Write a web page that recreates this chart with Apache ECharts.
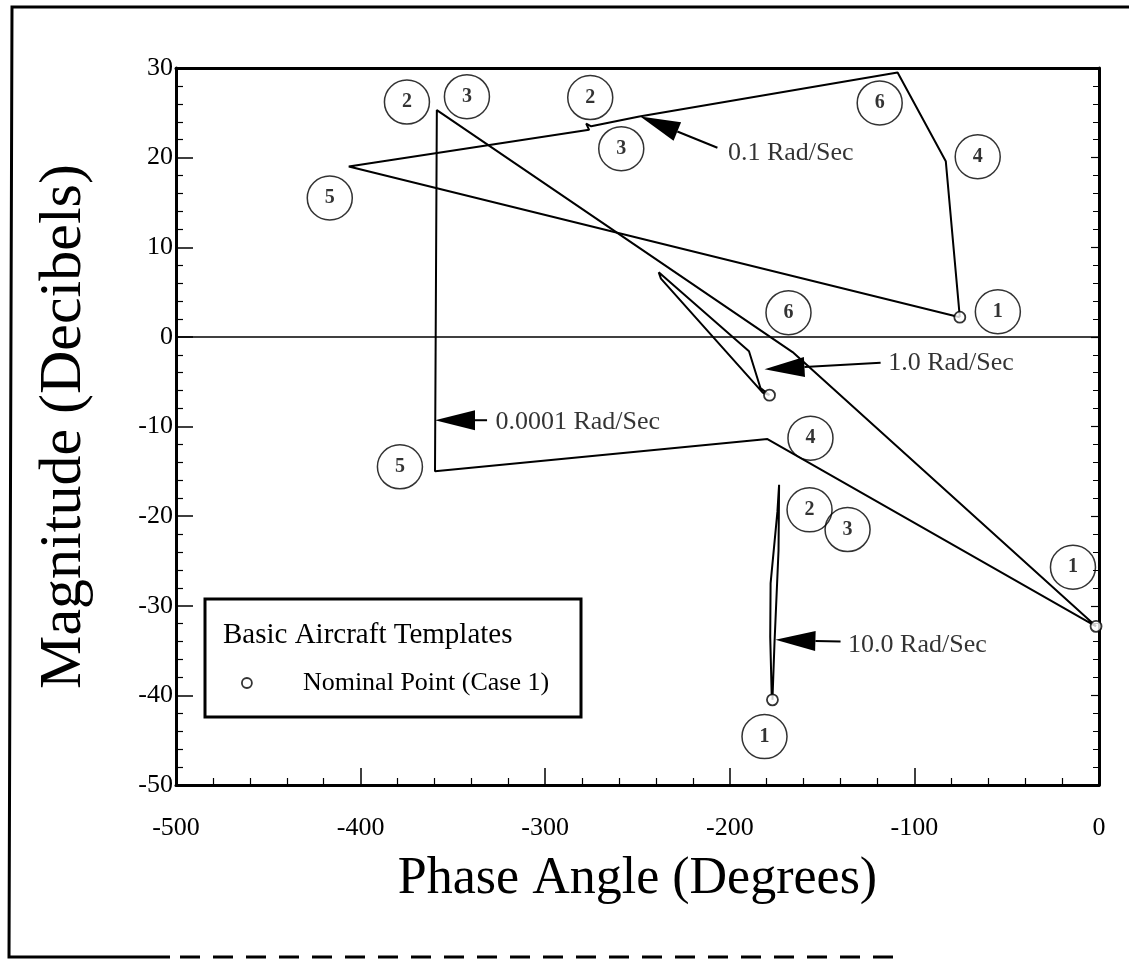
<!DOCTYPE html>
<html>
<head>
<meta charset="utf-8">
<script src="https://cdn.jsdelivr.net/npm/echarts@6/dist/echarts.min.js"></script>
<style>
  html, body { margin: 0; padding: 0; background: #fff; }
  #chart { width: 1129px; height: 960px; }
</style>
</head>
<body>
<div id="chart"></div>
<script>
// template curves, [phase deg, magnitude dB]
const curve01 = [[-75.4, 2.2], [-83.0, 19.6], [-109.1, 29.5], [-249.0, 24.6], [-275.1, 23.5],
  [-277.8, 23.8], [-276.2, 23.1], [-406.4, 19.0], [-75.4, 2.2]];
const curve0001 = [[-1.6, -32.3], [-179.6, -11.4], [-359.7, -15.0], [-358.7, 25.3], [-166.0, -1.7], [-1.6, -32.3]];
const curve1 = [[-178.5, -6.5], [-183.4, -5.7], [-189.6, -1.6], [-238.5, 7.2], [-237.3, 6.5], [-182.3, -6.2], [-178.5, -6.5]];
const curve10 = [[-176.9, -40.5], [-175.8, -34.2], [-173.6, -23.8], [-173.3, -16.5], [-174.2, -19.5],
  [-177.9, -27.5], [-178.1, -33.5], [-177.3, -40.0]];

const nominalPoints = [[-75.4, 2.2], [-178.5, -6.5], [-176.9, -40.5], [-1.6, -32.3]];

// circled case numbers [phase, mag, label]
const caseLabels = [
  [-374.9, 26.2, '2'], [-342.4, 26.8, '3'], [-416.7, 15.5, '5'],
  [-275.6, 26.7, '2'], [-258.8, 21.0, '3'], [-118.8, 26.1, '6'], [-65.7, 20.1, '4'], [-54.8, 2.8, '1'],
  [-168.2, 2.7, '6'], [-378.7, -14.5, '5'], [-156.3, -11.3, '4'],
  [-156.8, -19.3, '2'], [-136.2, -21.5, '3'], [-181.2, -44.6, '1'], [-14.1, -25.7, '1']
];

// frequency arrows: tail, tip, text
const arrowTails = [[-206.7, 21.1], [-118.3, -2.9], [-140.0, -34.0], [-331.5, -9.3]];
const arrowTips = [[-248.5, 24.6], [-181.2, -3.6], [-175.3, -33.8], [-359.7, -9.3]];
const arrowTexts = [[-201.3, 20.5, '0.1 Rad/Sec'], [-114.5, -2.9, '1.0 Rad/Sec'],
  [-136.2, -34.4, '10.0 Rad/Sec'], [-327.2, -9.5, '0.0001 Rad/Sec']];

const xTicks = [-500, 0, 100];
const yTicks = [-50, 30, 10];

const font = 'Liberation Serif';
const chart = echarts.init(document.getElementById('chart'));

const curveStyle = { color: '#000', width: 2 };
const mkCurve = (data) => ({
  type: 'line', data: data, symbol: 'none', silent: true,
  lineStyle: curveStyle, z: 3
});

const option = {
  animation: false,
  backgroundColor: '#fff',
  grid: { left: 176, right: 30, top: 68, bottom: 175 },
  xAxis: [{
    type: 'value', min: xTicks[0], max: xTicks[1], interval: xTicks[2],
    name: 'Phase Angle (Degrees)', nameLocation: 'middle', nameGap: 68,
    nameTextStyle: { fontFamily: font, fontSize: 52, color: '#000' },
    axisLine: { onZero: false, lineStyle: { color: '#000', width: 3 } },
    axisTick: { inside: true, length: 17, lineStyle: { color: '#000', width: 1.5 } },
    minorTick: { show: true, splitNumber: 5, length: 7, lineStyle: { color: '#000', width: 1.2 } },
    axisLabel: { fontFamily: font, fontSize: 26, color: '#000', margin: 30 },
    splitLine: { show: false }
  }, {
    type: 'value', position: 'top', min: xTicks[0], max: xTicks[1], interval: xTicks[2],
    axisLine: { show: true, onZero: false, lineStyle: { color: '#000', width: 3 } },
    axisTick: { show: false }, axisLabel: { show: false }, splitLine: { show: false }
  }],
  yAxis: [{
    type: 'value', min: yTicks[0], max: yTicks[1], interval: yTicks[2],
    name: 'Magnitude (Decibels)', nameLocation: 'middle', nameGap: 82,
    nameTextStyle: { fontFamily: font, fontSize: 60, color: '#000' },
    axisLine: { show: true, onZero: false, lineStyle: { color: '#000', width: 3 } },
    axisTick: { inside: true, length: 17, lineStyle: { color: '#000', width: 1.5 } },
    minorTick: { show: true, splitNumber: 5, length: 7, lineStyle: { color: '#000', width: 1.2 } },
    axisLabel: { fontFamily: font, fontSize: 26, color: '#000', margin: 3 },
    splitLine: { show: false }
  }, {
    type: 'value', position: 'right', min: yTicks[0], max: yTicks[1], interval: yTicks[2],
    axisLine: { show: true, onZero: false, lineStyle: { color: '#000', width: 3 } },
    axisTick: { inside: true, length: 8, lineStyle: { color: '#000', width: 1.2 } },
    minorTick: { show: true, splitNumber: 5, length: 6, lineStyle: { color: '#000', width: 1 } },
    axisLabel: { show: false }, splitLine: { show: false }
  }],
  legend: {
    left: 236, top: 665, orient: 'vertical', z: 30,
    itemWidth: 10, itemHeight: 10,
    data: [{ name: 'Nominal Point (Case 1)', icon: 'circle' }],
    itemStyle: { color: '#fff', borderColor: '#000', borderWidth: 1.8 },
    textStyle: { fontFamily: font, fontSize: 26, color: '#000', padding: [0, 0, 0, 46] },
    selectedMode: false
  },
  series: [
    Object.assign(mkCurve(curve01), {
      markLine: {
        silent: true, symbol: 'none', label: { show: false },
        lineStyle: { color: '#000', width: 1.5, type: 'solid' },
        data: [{ yAxis: 0 }]
      }
    }),
    mkCurve(curve0001),
    mkCurve(curve1),
    mkCurve(curve10),
    {
      name: 'Nominal Point (Case 1)', type: 'scatter', data: nominalPoints,
      symbol: 'circle', symbolSize: 11, z: 5,
      itemStyle: { color: '#fff', borderColor: '#000', borderWidth: 1.8 }
    },
    {
      type: 'scatter', data: caseLabels, symbol: 'circle', symbolSize: [45, 44], z: 4,
      itemStyle: { color: 'rgba(0,0,0,0)', borderColor: '#000', borderWidth: 1.5 },
      label: {
        show: true, position: 'inside', formatter: (p) => p.value[2],
        fontFamily: font, fontSize: 20, fontWeight: 'bold', color: '#000'
      }
    },
    {
      type: 'scatter', data: arrowTexts, symbolSize: 1, z: 4,
      itemStyle: { color: 'rgba(0,0,0,0)' },
      label: {
        show: true, position: 'right', distance: 0, formatter: (p) => p.value[2],
        fontFamily: font, fontSize: 26, color: '#000'
      }
    }
  ]
};

chart.setOption(option);

// arrows and frame, placed from the chart's own scales
const arrowParts = [];
arrowTails.forEach((tail, i) => {
  const a = chart.convertToPixel({ xAxisIndex: 0, yAxisIndex: 0 }, tail);
  const b = chart.convertToPixel({ xAxisIndex: 0, yAxisIndex: 0 }, arrowTips[i]);
  const len = Math.hypot(b[0] - a[0], b[1] - a[1]);
  const ux = (b[0] - a[0]) / len, uy = (b[1] - a[1]) / len;
  const headLen = 40, halfW = 10;
  const base = [b[0] - ux * headLen, b[1] - uy * headLen];
  arrowParts.push({
    type: 'line', z: 10,
    shape: { x1: a[0], y1: a[1], x2: base[0], y2: base[1] },
    style: { stroke: '#000', lineWidth: 2 }
  });
  arrowParts.push({
    type: 'polygon', z: 10,
    shape: { points: [b, [base[0] - uy * halfW, base[1] + ux * halfW], [base[0] + uy * halfW, base[1] - ux * halfW]] },
    style: { fill: '#000' }
  });
});

chart.setOption({
  graphic: [
    { type: 'polyline', shape: { points: [[1129, 7], [12, 7], [9, 957], [170, 957]] },
      style: { stroke: '#000', lineWidth: 3, fill: null } },
    { type: 'line', shape: { x1: 180, y1: 957, x2: 900, y2: 957 },
      style: { stroke: '#000', lineWidth: 3, lineDash: [20, 13] } },
    { type: 'rect', shape: { x: 205, y: 599, width: 376, height: 118 }, z: 1,
      style: { fill: '#fff', stroke: '#000', lineWidth: 3 } },
    { type: 'text', x: 223, y: 635, z: 2,
      style: { text: 'Basic Aircraft Templates', font: '29px "Liberation Serif"', fill: '#000', textVerticalAlign: 'middle' } }
  ].concat(arrowParts)
});
</script>
</body>
</html>
